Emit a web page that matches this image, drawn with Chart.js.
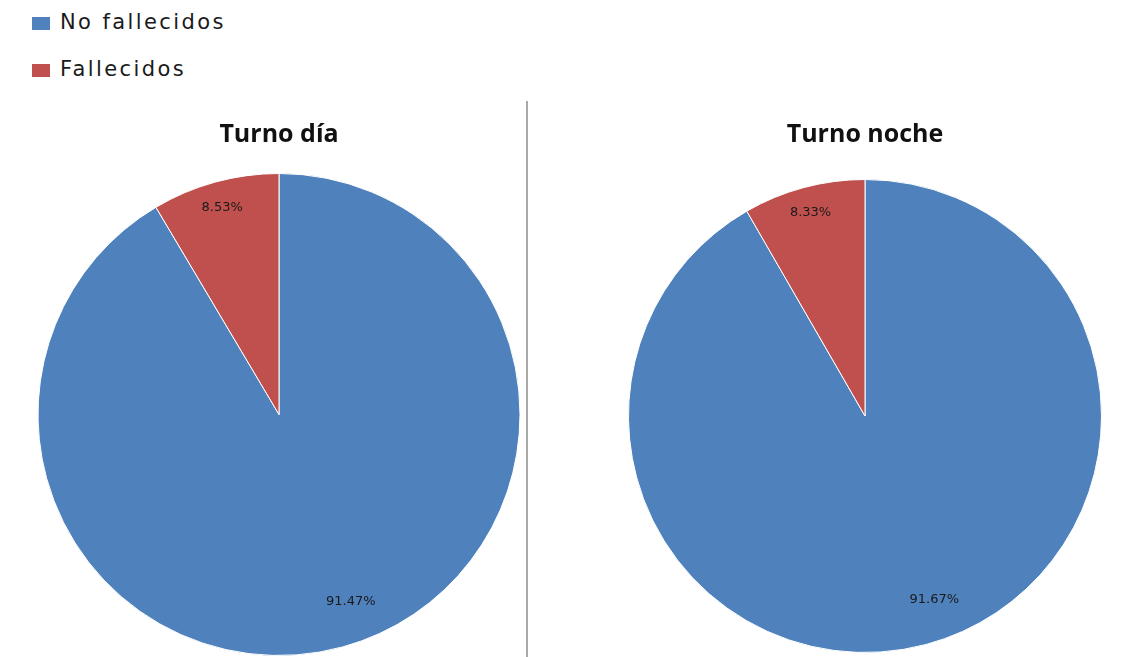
<!DOCTYPE html>
<html>
<head>
<meta charset="utf-8">
<script src="https://cdn.jsdelivr.net/npm/chart.js@4.4.0/dist/chart.umd.min.js"></script>
<style>
  body { margin: 0; background: #fff; width: 1131px; height: 657px; overflow: hidden; position: relative; }
  #legend { position: absolute; left: 32px; top: 10px; font-family: "DejaVu Sans", sans-serif; font-size: 21px; letter-spacing: 2.4px; color: #1a1a1a; }
  .item { height: 47px; display: flex; align-items: flex-start; }
  .box { width: 18px; height: 13px; margin-top: 7px; margin-right: 10px; }
  .divider { position: absolute; left: 526px; top: 101px; width: 2px; height: 556px; background: #a9a9a9; }
  .wrap { position: absolute; top: 100px; height: 557px; }
</style>
</head>
<body>
<div id="legend"></div>
<div class="divider"></div>
<div class="wrap" style="left:0;width:526px"><canvas id="dayChart"></canvas></div>
<div class="wrap" style="left:528px;width:603px"><canvas id="nightChart"></canvas></div>
<script>
// percentages per shift
let categories = ["No fallecidos", "Fallecidos"];
let dayValues = [91.47, 8.53];
let nightValues = [91.67, 8.33];
let shiftTitles = ["Turno día", "Turno noche"];
let colors = ["#4F81BD", "#C0504D"];

// legend built from the categories
let legend = document.getElementById("legend");
categories.forEach(function (name, i) {
  let item = document.createElement("div");
  item.className = "item";
  item.innerHTML = '<span class="box" style="background:' + colors[i] + '"></span><span>' + name + "</span>";
  legend.appendChild(item);
});

// writes the percentage inside each slice
let sliceLabels = {
  id: "sliceLabels",
  afterDatasetsDraw: function (chart, args, opts) {
    let ctx = chart.ctx;
    let meta = chart.getDatasetMeta(0);
    let values = chart.data.datasets[0].data;
    ctx.save();
    ctx.font = "13px 'DejaVu Sans'";
    ctx.fillStyle = "#1a1a1a";
    ctx.textAlign = "center";
    ctx.textBaseline = "middle";
    meta.data.forEach(function (arc, i) {
      let p = opts.place[i];
      let angle = (arc.startAngle + arc.endAngle) / 2 + p.shift * Math.PI / 180;
      let r = arc.outerRadius * p.r;
      ctx.fillText(values[i].toFixed(2) + "%", arc.x + Math.cos(angle) * r, arc.y + Math.sin(angle) * r);
    });
    ctx.restore();
  },
};

function makePie(id, title, values, padding, titlePad) {
  return new Chart(document.getElementById(id), {
    type: "pie",
    data: {
      labels: categories,
      datasets: [
        {
          data: values,
          backgroundColor: colors,
          borderColor: "#ffffff",
          borderWidth: 1,
        },
      ],
    },
    options: {
      responsive: true,
      maintainAspectRatio: false,
      animation: false,
      layout: { padding: padding },
      plugins: {
        legend: { display: false },
        tooltip: { enabled: false },
        title: {
          display: true,
          text: title,
          color: "#111",
          font: { family: "Open Sans", size: 25, weight: "bold" },
          padding: titlePad,
        },
        sliceLabels: {
          place: [
            { r: 0.83, shift: -5.7 },
            { r: 0.89, shift: 0 },
          ],
        },
      },
    },
    plugins: [sliceLabels],
  });
}

makePie("dayChart", shiftTitles[0], dayValues, { left: 32, right: 0, top: 0, bottom: 1 }, { top: 20, bottom: 23 });
makePie("nightChart", shiftTitles[1], nightValues, { left: 71, right: 0, top: 0, bottom: 4 }, { top: 20, bottom: 29 });
</script>
</body>
</html>
